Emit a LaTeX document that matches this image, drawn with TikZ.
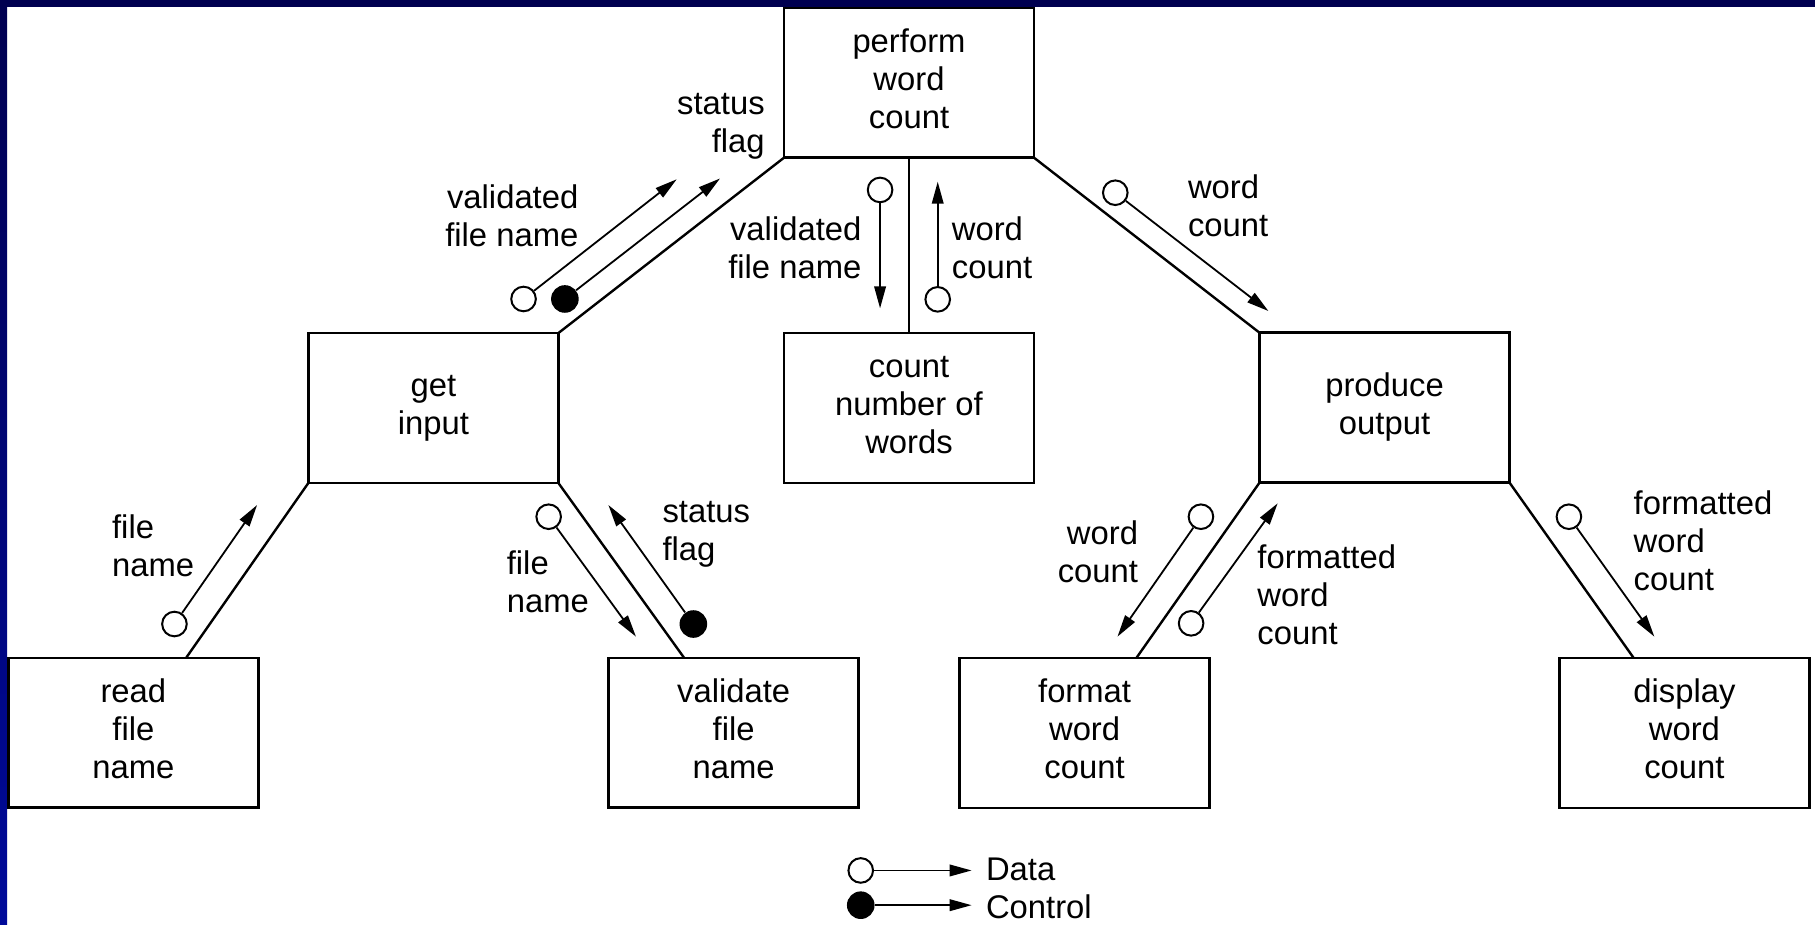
\documentclass[tikz,border=0pt]{standalone}
\usepackage{fontspec}
\setmainfont{Liberation Sans}
\usetikzlibrary{arrows.meta,calc}
\newcommand\lblfont{\fontsize{16.4pt}{19pt}\selectfont}
\definecolor{navytop}{RGB}{0,0,80}
\definecolor{navybot}{RGB}{0,10,154}
\tikzset{
  box/.style={draw, line width=1.3pt, minimum width=125pt, minimum height=74.95pt,
    inner sep=0pt, outer sep=0pt, align=center, font=\lblfont},
  lbl/.style={inner sep=0pt, font=\lblfont},
  dot/.style={circle, draw, line width=1pt, fill=white, minimum size=12.3pt, inner sep=0pt},
  cdot/.style={circle, fill=black, minimum size=13.8pt, inner sep=0pt},
  flow/.style={line width=0.9pt, -{Triangle[length=11pt, width=5.8pt]}},
  link/.style={line width=1.2pt},
}
\begin{document}
\begin{tikzpicture}[x=0.57875pt, y=-0.57875pt]
% page and frame
\fill[white] (0,0) rectangle (1568,799);
\useasboundingbox (0,0) rectangle (1568,799);
\shade[top color=navytop, bottom color=navybot] (0,0) rectangle (6.05,799);
\fill[navytop] (0,0) rectangle (1568,6.05);

% modules
\node[box] (perform)  at (785.3,71.5)  {\strut perform\\word\\count\strut};
\node[box] (getin)    at (374.4,352.5) {\strut get\\input\strut};
\node[box] (count)    at (785.3,352.5) {\strut count\\number of\\words\strut};
\node[box] (produce)  at (1196.1,352.2) {\strut produce\\output\strut};
\node[box] (readfn)   at (115.2,633.1) {\strut read\\file\\name\strut};
\node[box] (validate) at (633.8,633.1) {\strut validate\\file\\name\strut};
\node[box] (format)   at (937,633.2)   {\strut format\\word\\count\strut};
\node[box] (display)  at (1455.2,633.2) {\strut display\\word\\count\strut};

% calls
\draw[link] (perform.south west) -- (getin.north east);
\draw[link] (perform.south) -- (count.north);
\draw[link] (perform.south east) -- (produce.north west);
\draw[link] (getin.south west) -- ($(readfn.north west)!0.711!(readfn.north east)$);
\draw[link] (getin.south east) -- ($(validate.north west)!0.302!(validate.north east)$);
\draw[link] (produce.south west) -- ($(format.north west)!0.707!(format.north east)$);
\draw[link] (produce.south east) -- ($(display.north west)!0.297!(display.north east)$);

% couples: tails and heads
\node[dot]  (c1)  at (452.3,258.3) {};  \coordinate (t1)  at (584.6,154.9);
\node[cdot] (c2)  at (488,258.3) {};    \coordinate (t2)  at (622,154.2);
\node[dot]  (c3)  at (760.3,164.1) {};  \coordinate (t3)  at (760.3,266.4);
\node[dot]  (c4)  at (810.1,258.6) {};  \coordinate (t4)  at (810.1,157);
\node[dot]  (c5)  at (963.5,166.5) {};  \coordinate (t5)  at (1095.8,268.7);
\node[dot]  (c6)  at (150.7,539.1) {};  \coordinate (t6)  at (222.1,436.3);
\node[dot]  (c7)  at (474,446.4) {};    \coordinate (t7)  at (549.4,550);
\node[cdot] (c8)  at (599,539.1) {};    \coordinate (t8)  at (525.6,436.3);
\node[dot]  (c9)  at (1037.5,446.4) {}; \coordinate (t9)  at (965.4,550);
\node[dot]  (c10) at (1029,538.5) {};   \coordinate (t10) at (1103.8,434.8);
\node[dot]  (c11) at (1355.4,446.4) {}; \coordinate (t11) at (1429.2,550);
\foreach \i in {1,...,11} \draw[flow] (c\i) -- (t\i);

% couple labels
\node[lbl, anchor=north east, align=right] (l1)  at (500,156.5)  {\strut validated\\file name};
\node[lbl, anchor=north east, align=right] (l2)  at (661,76)     {\strut status\\flag};
\node[lbl, anchor=north east, align=right] (l3)  at (744.5,184.3) {\strut validated\\file name};
\node[lbl, anchor=north west, align=left]  (l4)  at (822,184.3)  {\strut word\\count};
\node[lbl, anchor=north west, align=left]  (l5)  at (1026,148)   {\strut word\\count};
\node[lbl, anchor=north west, align=left]  (l6)  at (96.5,442)   {\strut file\\name};
\node[lbl, anchor=north west, align=left]  (l7)  at (437.5,473)  {\strut file\\name};
\node[lbl, anchor=north west, align=left]  (l8)  at (572,428)    {\strut status\\flag};
\node[lbl, anchor=north east, align=right] (l9)  at (983.5,447.5) {\strut word\\count};
\node[lbl, anchor=north west, align=left]  (l10) at (1086,468)   {\strut formatted\\word\\count};
\node[lbl, anchor=north west, align=left]  (l11) at (1411,421.5) {\strut formatted\\word\\count};

% legend
\node[dot]  (cd) at (743.6,752) {};  \coordinate (td) at (839.4,752);
\node[cdot] (cc) at (743.6,782) {};  \coordinate (tc) at (839.4,782);
\draw[flow] (cd) -- (td);
\draw[flow] (cc) -- (tc);
\node[lbl, anchor=base west] (ldata) at (851.5,760.3) {Data};
\node[lbl, anchor=base west] (lctrl) at (851.5,793.5) {Control};
\end{tikzpicture}
\end{document}
